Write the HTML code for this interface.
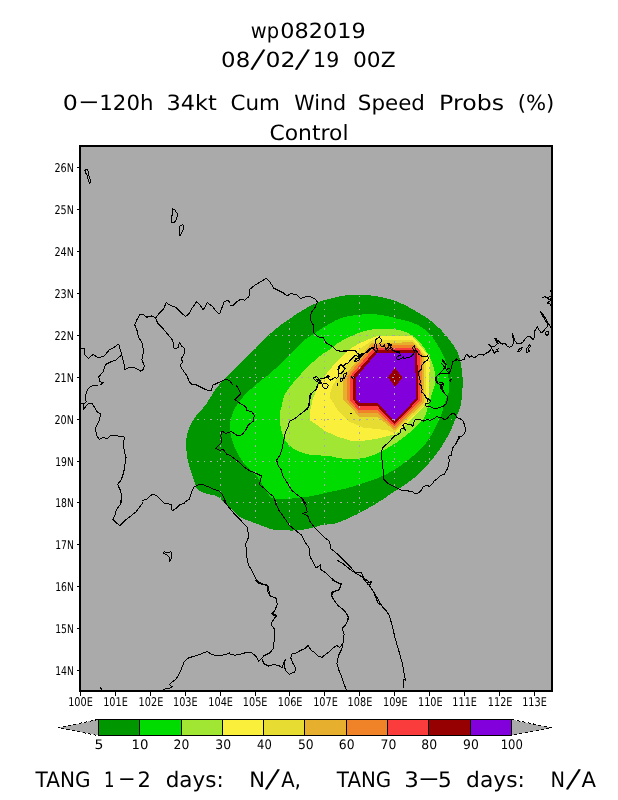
<!DOCTYPE html><html><head><meta charset="utf-8"><title>wp082019</title><style>html,body{margin:0;padding:0;background:#fff}svg{display:block}</style></head><body><svg width="618" height="800" viewBox="0 0 618 800" shape-rendering="crispEdges">
<rect x="0" y="0" width="618" height="800" fill="#ffffff"/>
<rect x="80" y="146" width="472" height="545" fill="#aaaaaa"/>
<g>
<polygon points="186.1,443.8 186.2,442.2 186.3,440.6 186.4,439.0 186.7,437.3 186.9,435.7 187.3,434.1 187.7,432.5 188.2,430.9 188.8,429.2 189.4,427.6 190.1,426.0 190.9,424.4 191.7,422.8 192.7,421.2 193.6,419.5 194.7,417.9 195.8,416.3 197.0,414.7 198.2,413.2 199.6,411.7 200.9,410.3 202.4,408.8 203.9,407.0 205.5,405.0 207.2,402.6 208.9,399.8 210.7,396.8 212.6,393.8 214.5,390.9 216.4,388.2 218.3,385.8 220.3,383.5 222.2,381.4 224.2,379.2 226.3,377.1 228.5,374.8 230.9,372.3 233.5,369.7 236.1,367.1 238.7,364.5 241.1,362.2 243.1,360.2 244.7,358.7 246.0,357.5 247.1,356.5 248.0,355.6 249.0,354.8 250.0,353.8 251.1,352.7 252.2,351.7 253.3,350.6 254.4,349.5 255.4,348.5 256.5,347.4 257.6,346.3 258.6,345.2 259.7,344.2 260.8,343.1 261.8,342.0 262.9,340.9 264.0,339.8 265.1,338.7 266.1,337.6 267.2,336.5 268.3,335.4 269.4,334.4 270.5,333.4 271.6,332.5 272.6,331.6 273.7,330.7 274.8,329.8 275.9,328.9 277.0,328.0 278.0,327.1 279.1,326.3 280.2,325.4 281.3,324.6 282.4,323.7 283.6,322.8 284.9,322.0 286.2,321.1 287.6,320.2 288.8,319.4 290.0,318.6 291.0,317.9 291.8,317.3 292.6,316.7 293.5,316.1 294.5,315.4 295.9,314.5 297.6,313.4 299.7,312.1 301.9,310.7 304.2,309.3 306.6,307.9 308.8,306.7 311.0,305.6 313.1,304.6 315.3,303.6 317.5,302.7 319.6,301.8 321.8,301.0 324.0,300.3 326.3,299.6 328.5,299.0 330.7,298.5 332.8,298.0 334.7,297.5 336.3,297.1 337.7,296.8 338.9,296.5 340.2,296.3 341.5,296.0 343.0,295.8 344.7,295.6 346.4,295.3 348.3,295.1 350.2,294.9 352.2,294.8 354.3,294.7 356.5,294.7 358.9,294.7 361.3,294.7 363.8,294.8 366.3,295.0 368.8,295.2 371.2,295.5 373.7,295.8 376.1,296.2 378.5,296.6 381.0,297.1 383.4,297.6 385.8,298.2 388.3,298.8 390.7,299.5 393.1,300.2 395.6,301.1 398.0,302.0 400.4,303.0 402.8,304.1 405.1,305.3 407.5,306.5 410.0,307.9 412.5,309.3 415.2,310.8 418.0,312.5 420.9,314.2 423.8,316.0 426.5,317.8 429.0,319.5 431.2,321.2 433.3,322.8 435.2,324.4 437.0,326.1 438.7,327.7 440.5,329.5 442.3,331.3 444.0,333.2 445.6,335.1 447.2,337.0 448.8,339.0 450.3,341.0 451.8,343.0 453.3,345.1 454.7,347.2 456.0,349.4 457.2,351.6 458.3,354.0 459.2,356.5 459.9,359.2 460.5,361.9 461.0,364.7 461.4,367.4 461.8,370.0 462.1,372.4 462.4,374.7 462.5,377.0 462.6,379.3 462.6,381.8 462.6,384.5 462.5,387.7 462.3,391.2 462.0,394.8 461.7,398.5 461.3,401.9 460.8,404.9 460.2,407.4 459.5,409.5 458.8,411.4 457.9,413.2 457.1,415.0 456.2,417.1 455.3,419.4 454.4,421.8 453.4,424.2 452.4,426.7 451.3,429.2 450.1,431.7 448.8,434.1 447.5,436.6 446.1,439.1 444.7,441.5 443.2,443.9 441.7,446.3 440.2,448.6 438.6,450.8 437.0,453.0 435.4,455.2 433.7,457.4 431.9,459.6 430.0,461.9 428.0,464.2 426.0,466.5 423.9,468.8 421.8,471.0 419.8,473.0 417.8,474.8 415.9,476.5 413.9,478.1 411.9,479.6 409.9,481.1 407.7,482.7 405.4,484.3 403.0,485.9 400.6,487.5 398.1,489.2 395.6,490.8 393.1,492.4 390.7,494.0 388.2,495.7 385.8,497.3 383.4,499.0 380.9,500.6 378.5,502.1 376.1,503.6 373.7,505.1 371.3,506.5 368.8,507.9 366.4,509.3 364.0,510.6 361.5,511.9 359.0,513.2 356.6,514.5 354.1,515.7 351.7,516.8 349.4,517.9 347.2,518.9 345.0,519.8 342.9,520.7 340.9,521.4 339.0,522.1 337.3,522.7 335.8,523.1 334.6,523.5 333.5,523.7 332.4,523.8 331.3,524.0 330.0,524.2 328.6,524.4 327.2,524.5 325.7,524.7 324.2,524.9 322.5,525.1 320.8,525.4 318.9,525.8 317.0,526.4 314.9,527.0 312.8,527.6 310.7,528.1 308.6,528.6 306.6,529.0 304.6,529.3 302.5,529.7 300.5,529.9 298.5,530.1 296.5,530.3 294.5,530.4 292.5,530.5 290.5,530.5 288.4,530.4 286.4,530.4 284.4,530.3 282.4,530.2 280.3,530.2 278.3,530.1 276.3,529.9 274.2,529.7 272.2,529.3 270.1,528.8 268.1,528.1 266.0,527.3 264.0,526.5 262.0,525.7 260.1,525.0 258.3,524.3 256.7,523.7 255.1,523.1 253.5,522.5 252.0,521.9 250.4,521.3 248.8,520.7 247.1,520.2 245.5,519.6 243.8,519.0 242.2,518.3 240.7,517.5 239.2,516.5 237.8,515.3 236.4,514.0 235.0,512.7 233.6,511.3 232.2,510.0 230.8,508.7 229.3,507.3 227.9,505.9 226.4,504.5 225.0,503.2 223.7,502.0 222.4,500.9 221.3,499.8 220.1,498.8 219.0,497.8 217.7,496.9 216.4,496.2 214.9,495.6 213.3,495.2 211.6,494.9 209.9,494.6 208.3,494.2 206.7,493.8 205.2,493.3 203.6,492.7 202.1,492.2 200.6,491.5 199.3,490.8 198.2,489.9 197.3,488.9 196.6,487.9 196.1,486.7 195.6,485.5 195.1,484.1 194.6,482.6 194.0,480.9 193.3,478.9 192.7,476.8 192.0,474.7 191.4,472.8 190.9,471.0 190.4,469.5 190.0,468.2 189.6,467.0 189.2,465.9 188.8,464.7 188.5,463.3 188.2,461.8 187.8,460.2 187.5,458.5 187.3,456.8 187.0,455.2 186.8,453.5 186.6,451.9 186.4,450.3 186.3,448.6 186.2,447.0 186.1,445.4" fill="#009600"/>
<polygon points="229.8,426.8 229.9,424.8 230.2,422.7 230.6,420.6 231.1,418.6 231.6,416.6 232.2,414.7 232.8,413.0 233.5,411.3 234.2,409.8 235.0,408.2 236.0,406.7 237.0,405.0 238.2,403.3 239.4,401.5 240.8,399.7 242.3,397.8 243.8,396.0 245.5,394.2 247.3,392.4 249.3,390.5 251.4,388.7 253.5,386.8 255.6,385.0 257.7,383.3 259.7,381.6 261.7,380.0 263.8,378.5 265.8,376.9 267.8,375.3 269.8,373.6 271.8,371.9 273.8,370.1 275.8,368.3 277.9,366.5 279.9,364.6 281.9,362.7 283.9,360.7 286.0,358.7 288.1,356.6 290.1,354.5 292.1,352.4 294.1,350.5 296.0,348.6 297.8,346.7 299.6,344.9 301.4,343.2 303.1,341.5 304.9,340.0 306.6,338.6 308.3,337.4 310.0,336.3 311.7,335.2 313.4,334.1 315.3,332.9 317.3,331.6 319.4,330.1 321.6,328.7 323.9,327.2 326.1,325.8 328.3,324.5 330.5,323.3 332.6,322.1 334.7,320.9 336.9,319.8 339.0,318.8 341.2,318.0 343.4,317.3 345.5,316.8 347.6,316.3 349.8,315.9 352.0,315.6 354.3,315.3 356.6,315.0 359.0,314.7 361.5,314.5 363.9,314.3 366.4,314.1 368.8,314.1 371.2,314.1 373.7,314.2 376.1,314.4 378.5,314.6 381.0,314.9 383.4,315.3 385.9,315.8 388.5,316.4 391.1,317.1 393.7,317.8 396.0,318.5 398.0,319.0 399.6,319.3 400.8,319.5 401.8,319.7 402.7,319.8 403.9,320.1 405.4,320.5 407.3,321.1 409.6,321.8 412.0,322.6 414.4,323.5 416.8,324.6 419.0,325.7 421.0,326.9 423.0,328.2 424.9,329.7 426.8,331.2 428.6,332.9 430.3,334.7 432.0,336.7 433.6,338.9 435.1,341.1 436.6,343.5 438.0,345.9 439.4,348.3 440.7,350.7 442.0,353.2 443.2,355.7 444.4,358.1 445.4,360.6 446.2,363.0 446.9,365.3 447.3,367.6 447.7,369.9 448.0,372.1 448.2,374.4 448.4,376.6 448.6,378.9 448.8,381.3 449.0,383.7 449.1,385.9 449.1,388.1 449.0,390.0 448.8,391.7 448.4,393.1 447.9,394.4 447.4,395.6 446.9,396.8 446.5,398.0 446.1,399.2 445.7,400.2 445.4,401.2 445.0,402.3 444.6,403.5 444.1,405.0 443.6,406.7 443.0,408.7 442.5,410.7 441.9,412.9 441.2,415.0 440.4,417.1 439.5,419.1 438.6,421.2 437.6,423.2 436.6,425.2 435.5,427.3 434.4,429.3 433.3,431.3 432.2,433.4 431.0,435.4 429.8,437.5 428.5,439.5 427.1,441.4 425.7,443.3 424.1,445.2 422.6,447.0 420.9,448.8 419.2,450.6 417.4,452.3 415.5,454.0 413.5,455.7 411.4,457.3 409.4,458.9 407.3,460.5 405.2,462.0 403.2,463.5 401.3,465.0 399.3,466.4 397.3,467.8 395.3,469.2 393.1,470.5 390.8,471.8 388.4,473.1 386.0,474.4 383.5,475.6 381.0,476.7 378.5,477.8 376.1,478.8 373.7,479.6 371.3,480.4 368.8,481.2 366.4,481.9 364.0,482.7 361.5,483.5 359.0,484.4 356.6,485.2 354.1,486.0 351.7,486.8 349.4,487.5 347.2,488.1 345.0,488.7 342.9,489.2 340.9,489.6 339.0,490.0 337.3,490.4 335.9,490.7 334.7,491.0 333.6,491.2 332.6,491.4 331.4,491.6 330.0,491.9 328.3,492.3 326.4,492.7 324.4,493.2 322.4,493.7 320.3,494.2 318.3,494.6 316.3,495.0 314.3,495.5 312.3,495.9 310.2,496.3 308.2,496.7 306.2,497.0 304.2,497.3 302.1,497.5 300.0,497.8 298.0,498.0 296.0,498.1 294.1,498.3 292.3,498.5 290.5,498.6 288.8,498.7 287.1,498.8 285.4,498.9 283.6,498.9 281.7,498.9 279.6,499.0 277.5,499.0 275.5,498.9 273.6,498.5 271.9,497.9 270.5,496.9 269.4,495.7 268.4,494.3 267.5,492.7 266.5,491.0 265.4,489.3 264.2,487.5 262.9,485.5 261.6,483.4 260.3,481.4 259.0,479.4 257.7,477.7 256.4,476.2 255.1,474.9 253.8,473.6 252.5,472.5 251.2,471.2 249.9,469.9 248.6,468.5 247.2,467.1 245.9,465.6 244.6,464.1 243.3,462.5 242.1,460.8 240.9,459.0 239.8,457.1 238.7,455.1 237.6,453.1 236.6,451.1 235.7,449.2 234.9,447.4 234.1,445.7 233.5,444.0 232.9,442.3 232.3,440.6 231.8,438.8 231.3,436.9 230.8,434.9 230.4,432.9 230.1,430.9 229.9,428.8" fill="#00dc00"/>
<polygon points="279.5,414.7 279.7,412.9 280.0,411.3 280.5,409.7 281.0,408.1 281.5,406.6 281.9,405.0 282.3,403.4 282.5,401.8 282.8,400.3 283.2,398.7 283.7,397.1 284.4,395.4 285.3,393.7 286.4,391.9 287.6,390.0 288.9,388.2 290.3,386.3 291.7,384.5 293.2,382.7 294.8,380.8 296.4,379.0 298.1,377.1 299.8,375.3 301.4,373.6 303.0,371.9 304.6,370.2 306.2,368.6 307.8,367.0 309.4,365.4 311.0,363.9 312.6,362.4 314.3,360.9 315.9,359.4 317.6,358.0 319.2,356.7 320.8,355.4 322.4,354.3 323.9,353.2 325.4,352.3 326.9,351.3 328.4,350.4 330.0,349.3 331.5,348.2 333.0,347.0 334.5,345.7 336.1,344.5 337.8,343.2 339.7,342.0 341.9,340.8 344.2,339.5 346.7,338.2 349.3,337.0 351.8,335.9 354.3,334.8 356.7,333.8 359.1,332.9 361.5,332.0 363.8,331.2 366.3,330.6 368.8,330.0 371.5,329.6 374.3,329.3 377.1,329.2 379.9,329.1 382.6,329.0 385.0,329.0 387.2,329.0 389.1,329.0 390.9,329.0 392.7,329.1 394.5,329.3 396.3,329.6 398.2,329.9 400.1,330.3 402.0,330.8 403.9,331.4 405.8,332.1 407.7,333.0 409.6,334.1 411.6,335.3 413.5,336.7 415.4,338.2 417.3,339.8 419.0,341.5 420.7,343.3 422.3,345.3 423.9,347.4 425.3,349.6 426.7,351.8 428.0,354.0 429.2,356.2 430.3,358.5 431.3,360.9 432.2,363.2 433.0,365.5 433.7,367.6 434.2,369.7 434.7,371.7 435.0,373.7 435.2,375.5 435.3,377.3 435.4,378.9 435.4,380.3 435.4,381.5 435.2,382.6 435.0,383.6 434.8,384.8 434.5,386.0 434.1,387.4 433.7,388.7 433.2,390.2 432.7,391.7 432.2,393.3 431.6,395.0 431.0,396.9 430.4,398.9 429.7,401.0 429.1,403.1 428.4,405.2 427.8,407.1 427.3,408.9 426.8,410.6 426.4,412.3 425.9,414.0 425.3,415.6 424.4,417.3 423.2,419.0 421.9,420.7 420.3,422.4 418.7,424.1 417.0,425.8 415.3,427.5 413.5,429.2 411.7,430.8 409.8,432.4 407.8,434.0 405.9,435.6 404.0,437.1 402.1,438.5 400.2,439.9 398.4,441.3 396.5,442.6 394.6,443.8 392.7,445.0 390.8,446.1 388.9,447.2 387.0,448.3 385.1,449.3 383.2,450.2 381.3,451.2 379.4,452.1 377.5,453.1 375.6,454.0 373.7,454.9 371.8,455.6 370.0,456.3 368.2,456.9 366.5,457.3 364.9,457.7 363.2,458.0 361.6,458.3 360.0,458.5 358.5,458.7 357.0,458.8 355.6,458.9 354.2,459.0 352.6,459.0 350.9,459.0 348.9,458.9 346.7,458.8 344.4,458.7 342.1,458.5 339.9,458.2 338.0,458.0 336.4,457.7 335.0,457.4 333.8,457.0 332.6,456.6 331.3,456.3 330.0,456.0 328.5,455.8 327.0,455.7 325.5,455.7 324.0,455.6 322.4,455.6 320.8,455.5 319.2,455.4 317.6,455.3 315.9,455.3 314.3,455.2 312.6,455.0 311.0,454.8 309.4,454.5 307.8,454.2 306.2,453.8 304.6,453.4 303.0,452.9 301.4,452.3 299.8,451.7 298.1,451.0 296.4,450.3 294.8,449.5 293.2,448.5 291.7,447.5 290.3,446.3 289.0,445.1 287.7,443.7 286.5,442.2 285.4,440.7 284.4,439.0 283.5,437.2 282.8,435.2 282.2,433.1 281.6,431.0 281.1,428.9 280.7,426.8 280.3,424.7 280.0,422.7 279.7,420.6 279.5,418.6 279.5,416.6" fill="#a0e632"/>
<polygon points="309.7,420.0 310.4,409.9 312.9,398.3 316.8,389.2 322.0,380.1 328.5,371.1 336.2,362.0 344.0,354.2 351.8,347.8 360.0,343.0 376.2,336.3 412.5,336.3 430.0,357.2 428.9,391.0 428.7,400.0 424.0,406.0 415.0,416.0 405.0,425.1 400.0,430.3 394.5,434.8 389.7,435.5 376.8,438.7 363.8,440.7 350.9,440.7 338.0,436.8 325.0,431.0 317.1,425.0" fill="#faf03c"/>
<polygon points="332.8,385.0 336.8,379.8 343.6,367.4 351.8,359.4 360.0,348.8 373.0,339.7 412.8,339.7 426.0,356.0 425.9,404.0 394.5,433.0 387.1,430.3 376.8,429.0 363.8,427.7 348.3,421.2 338.0,410.9 330.2,398.0 330.2,392.8" fill="#e6dc32"/>
<polygon points="343.2,399.2 343.2,377.5 371.7,342.8 413.4,342.4 423.8,355.6 423.6,403.0 394.5,430.5 377.4,416.7 359.3,416.7" fill="#e6af2d"/>
<polygon points="346.5,399.2 346.5,377.2 372.6,345.3 414.4,345.2 421.9,354.0 421.9,402.0 394.5,428.5 376.8,412.8 358.7,412.8" fill="#f08228"/>
<polygon points="350.0,400.0 350.0,376.5 373.9,347.9 417.5,347.8 419.9,350.5 419.7,401.0 394.5,426.4 376.8,409.6 358.0,409.6" fill="#fa3c3c"/>
<polygon points="353.3,399.9 353.3,375.9 375.5,350.4 417.3,350.4 418.0,399.8 394.5,424.2 376.8,405.7 358.0,405.7" fill="#960000"/>
<polygon points="356.1,399.2 356.1,377.2 377.2,352.6 415.1,352.6 416.0,398.7 394.5,421.3 377.4,402.5 358.7,402.5" fill="#8200dc"/>
<polygon points="395.2,367.8 402.4,377.4 395.2,386.9 388.0,377.4" fill="#960000"/>
</g>
<path d="M115.5 146V691M150.5 146V691M185.5 146V691M220.5 146V691M255.5 146V691M289.5 146V691M324.5 146V691M359.5 146V691M394.5 146V691M429.5 146V691M464.5 146V691M499.5 146V691M534.5 146V691M80 670.5H552M80 628.5H552M80 586.5H552M80 544.5H552M80 502.5H552M80 461.5H552M80 419.5H552M80 377.5H552M80 335.5H552M80 293.5H552M80 251.5H552M80 209.5H552M80 167.5H552" stroke="#aaaaaa" stroke-width="1" fill="none" stroke-dasharray="2 5 1 5"/>
<path d="M84.9 169.9L87.3 169.4L88.7 173.1L89.2 177.9L90.7 180.3L89.7 183.5L88.3 180.3L87.3 175.5L85.3 172.3L84.9 169.9M172.2 208.3L175.1 210.2L177.6 214.3L176.6 219.2L174.2 222.8L171.7 222.8L171.3 218.0L172.7 213.1L172.2 208.3M180.0 225.7L182.9 224.8L183.9 227.7L182.4 231.3L180.5 235.4L179.0 236.2L180.0 231.3L179.5 228.2L180.0 225.7M80.0 348.3L84.4 348.7L84.9 354.8L88.5 358.4L93.3 354.3L98.2 358.0L104.3 356.0L109.1 350.0L114.0 347.5L118.8 343.9L120.0 348.7L121.7 354.8M121.7 354.8L116.4 359.7L110.3 362.1L105.5 364.5L103.1 371.8L98.9 376.7L99.4 381.5L103.1 382.7L100.6 384.9M121.7 354.8L123.7 362.1L124.9 369.4L131.0 366.9L135.8 368.2L140.7 371.1L143.6 369.4L144.3 365.7L141.9 359.7L143.6 351.2L141.9 342.7L138.3 336.6L137.0 330.5L134.6 324.5L137.0 319.6L139.5 314.8L143.6 314.8L146.7 317.2L151.6 316.0L155.7 317.9M155.7 317.9L158.9 313.5L163.7 308.7L166.2 302.6L169.8 305.0L175.9 307.5L180.7 312.3L185.6 316.5L189.2 313.5L191.7 308.7L196.5 301.9L200.1 305.0L203.3 309.9L207.4 302.6L212.3 306.3L215.9 311.1L219.6 314.0L222.0 307.5L224.4 301.4L228.1 300.2L230.0 302.6M155.7 317.9L157.7 323.3L163.7 329.3L168.6 335.4L172.7 340.2L174.2 348.7L178.3 347.5L179.5 342.2L181.9 346.3L184.9 348.7L184.4 353.6L181.5 358.4L182.4 362.1L180.0 365.7L183.2 370.6L186.8 375.4L189.2 381.5L192.1 384.4L196.5 384.9M213.5 384.9L220.8 381.5L225.6 379.1L230.0 381.0M230.0 305.0L233.6 305.0L237.3 301.4L240.9 299.0L244.6 300.2L248.9 296.6L249.9 289.3L254.3 285.6L260.3 282.0L266.4 278.3L270.0 282.0L273.7 288.1L278.5 290.5L283.4 292.9L287.0 296.1L290.7 293.6L296.7 294.6L300.4 298.5L305.2 297.0L310.1 296.6L315.0 299.0L317.4 301.9L315.0 307.5L311.3 312.3L310.1 319.6L313.7 325.7L313.7 333.0L317.4 336.6L323.4 337.8L325.9 342.7L331.9 346.3L336.8 350.4L342.9 351.9L348.9 350.4L355.0 350.0L357.4 353.6L362.3 355.3L365.9 352.4L369.6 348.7L374.4 347.5L375.6 340.2L378.1 337.8L380.0 336.6M230.0 381.0L232.4 384.9M98.2 385.0L90.9 386.2L87.3 389.9L85.3 395.9L86.1 402.0L83.4 404.2L80.0 403.2M83.4 404.2L83.6 409.3L88.5 403.2L92.1 403.2L95.0 408.1L97.0 411.7L100.6 414.1L98.9 421.4L95.0 428.7L97.0 436.0L99.4 439.6L103.1 437.2L106.7 438.9L110.3 436.0L115.2 435.5L120.0 436.5L124.9 437.2L123.2 442.0L124.2 450.5L126.1 457.8L124.9 465.1L123.7 472.4L121.3 479.7L117.6 484.5L120.0 489.4L121.7 495.4L120.8 504.9M196.5 385.0L201.4 387.4L206.2 389.9L211.1 391.1L213.0 385.0M230.0 432.3L225.6 433.5L222.0 431.1L220.8 436.0L222.0 442.0L218.3 445.7L215.9 448.6L219.6 450.5L223.2 449.3L226.8 454.2L230.0 455.4M141.9 501.0L146.7 499.1L150.4 495.4L154.0 494.2L157.7 496.7L161.3 500.3L165.0 503.9M184.4 502.7L189.2 499.1L191.7 491.8L194.1 486.9L198.9 484.5L203.8 485.0L208.6 486.9L213.5 489.4L218.3 490.6L222.0 494.2L224.4 499.1L226.8 504.9M317.4 385.0L316.2 388.6L312.5 392.3L310.1 397.1L309.6 405.6L305.2 410.5L300.4 414.1L294.3 419.0L289.5 421.4L288.3 426.3L285.3 432.3L283.9 439.6L282.2 448.1L279.8 455.4L276.6 460.2L278.5 466.3L281.5 470.0L282.2 474.8L285.3 479.7L288.3 484.5L291.9 490.6L298.0 495.4L302.8 499.1L306.5 504.9M236.1 385.0L238.5 388.6L240.9 393.5L237.3 397.1L234.9 399.6L239.7 403.2L245.8 406.8L247.0 410.5L251.8 411.7L254.3 415.3L253.1 421.4L248.2 425.0L245.8 429.9L242.1 434.8L237.3 435.5L232.4 432.3L230.0 431.1M230.0 455.4L234.9 459.0L239.7 462.7L244.6 467.5L250.6 471.2L256.7 473.6L261.6 476.0L260.3 480.9L259.1 484.5L264.0 488.2L268.8 493.0L273.7 496.7L276.1 504.9M350.1 413.2L351.1 413.2L351.1 413.9L350.1 413.9L350.1 413.2M120.8 500.0L120.0 504.9L116.4 509.7L115.2 514.6L112.8 519.4L116.4 523.1L120.0 525.5L124.9 520.6L131.0 515.8L135.8 512.1L139.5 507.3L143.1 502.4M163.7 502.9L171.0 504.4L172.2 510.9L175.9 508.5L179.5 504.9L185.6 502.9M163.7 551.5L167.4 552.9L171.0 551.5L171.7 557.0L169.8 561.9L169.3 557.0L166.2 554.6L163.7 553.4L163.7 551.5M223.2 500.0L226.8 504.9L230.0 508.5M230.0 508.5L234.9 514.6L240.9 520.6L247.0 526.7L248.9 536.4L245.8 543.7L246.5 555.8L248.2 564.3L253.1 572.8L256.7 580.1L261.6 583.7L268.3 586.2L267.6 591.0L270.0 595.9L276.1 598.3L277.3 604.4L274.9 610.4L272.5 612.9L276.1 615.3L273.7 619.9M274.9 500.0L278.5 509.7L284.6 518.2L289.5 525.5L295.5 530.3L301.6 535.2L305.2 542.5L308.9 547.3L310.1 557.0L313.7 563.1L316.2 568.0L321.0 564.3L320.3 569.2L325.9 572.8L330.7 577.7L335.6 581.3L341.2 584.5L339.2 589.8L333.2 592.2L331.5 595.9L334.4 600.7L338.0 605.6L344.1 610.4L347.7 615.3L348.9 619.9M302.8 500.0L305.7 506.1L307.2 512.1L302.8 513.3L307.7 515.8L310.1 521.8L315.0 527.9L319.8 532.8L324.7 537.6L329.5 541.3L330.7 548.5L336.8 553.4L341.7 558.3L346.5 563.1L351.4 568.0L355.0 572.8L361.1 572.3L363.5 577.7L368.3 581.3L367.1 585.0L370.8 583.7L369.6 586.2L373.2 591.0L375.6 597.1L378.1 603.2L380.0 604.4M273.7 620.0L272.5 620.0L271.3 624.9L274.9 629.8L274.2 638.3L273.7 648.0L270.0 652.8L264.0 655.7L261.6 658.2M255.5 580.0L259.1 583.6L266.4 584.9L268.8 589.7L270.0 595.8L276.1 598.2L277.3 604.3L274.9 610.3L271.7 614.0L276.1 616.4L273.2 620.0M261.6 658.2L258.6 661.3L256.2 656.5L251.8 652.8L247.0 652.3L240.9 654.0L234.9 655.2L230.0 654.0M261.6 658.2L264.0 663.7L268.8 666.2L273.7 664.5L278.5 665.4L282.2 667.9L283.9 662.5L285.3 659.6L283.9 665.0L285.8 671.0L289.5 674.2L294.3 672.2L296.0 668.6L293.1 663.7L290.7 657.7L291.9 654.0L296.7 652.8L300.4 650.4L304.0 649.2L308.2 645.5L311.3 650.4L315.0 652.8L318.6 656.5L322.2 657.2L325.9 654.0L329.5 651.6L333.2 648.0L336.8 645.5L339.7 647.5L342.9 643.6M331.9 580.0L336.8 582.4L341.2 583.6L339.2 589.7L331.9 592.1L331.5 595.8L334.4 600.6L338.0 605.5L344.1 610.3L348.4 616.4L346.5 623.7L342.1 628.5L344.1 634.6L342.9 643.6L341.7 649.2L338.7 655.2L336.8 663.7L339.2 671.0L341.7 677.1L344.1 684.4L346.5 690.0M230.0 652.8L225.6 654.8L220.8 655.2L215.9 655.7L211.1 654.0L207.4 651.6L203.8 652.8L198.9 654.8L192.9 656.5L188.0 658.2L184.4 661.3L181.9 667.4L179.5 673.4L175.9 679.5L172.2 681.9L169.3 684.4L172.2 686.8L168.6 688.7L162.5 689.2M100.6 686.8L101.4 690.0M336.7 560.0L343.0 563.7L352.3 571.2L361.6 576.7L367.2 583.1L371.7 581.6L369.1 585.3L374.7 593.5L382.1 606.5L385.8 610.2L389.5 615.8L392.5 627.0L395.1 638.2L398.9 651.2L402.6 664.2L404.4 675.4L405.9 681.0L403.7 679.1L403.7 688.4M381.5 454.0L382.2 448.6L383.6 446.7L387.0 443.9L390.4 440.5L394.3 436.0L398.3 434.3L401.1 432.0L400.6 429.2L403.4 428.0L405.1 429.7L405.7 430.9L404.0 427.5L402.8 425.2L405.1 422.9L407.4 424.1L411.3 424.6L413.0 426.3L413.6 423.5L414.2 420.7L416.4 419.0L419.8 419.0L423.2 421.2L425.5 420.1L427.8 419.5L430.0 420.7L433.4 419.0L436.8 416.7L440.0 417.8L441.1 417.5L444.0 419.3L447.2 418.7L449.0 416.2L450.8 414.4L453.3 413.2L455.7 415.0L456.9 417.5L461.1 419.3L463.0 421.1L464.8 425.3L465.4 430.8L464.2 433.8L462.3 435.8L458.6 437.0L459.9 438.3L458.1 439.3L456.2 443.1L452.6 447.9L451.4 455.2L448.4 456.4L449.4 460.0L447.7 468.5L446.0 471.0L444.1 474.6L440.4 475.3L438.0 478.3L434.4 480.7L431.9 484.3L429.5 486.7L427.1 485.0L423.4 486.7L421.0 490.4L418.6 492.8L415.0 494.0L412.5 491.6L407.7 490.9L400.4 489.9L394.3 486.7L388.3 483.6L383.9 479.5L383.4 472.2L382.2 462.5L381.5 454.0M365.0 352.9L362.3 354.4L360.3 355.8L358.9 354.9L357.4 356.3L355.5 355.3L353.5 356.8L351.6 359.2L350.1 360.2L349.2 362.1L347.7 363.1L345.8 363.6L344.3 365.0L343.3 367.0L341.9 365.5L340.9 364.1L339.5 365.5L338.5 367.5L338.0 369.4L339.0 371.4L338.5 373.8L339.0 375.7L338.0 376.7L337.0 378.2L335.1 377.7L333.2 378.2L331.7 379.6L330.2 380.1L328.8 379.1L327.8 377.7L329.3 376.2L328.3 375.4L326.8 376.7L325.4 377.7L323.9 378.2L322.0 379.1L320.5 378.6L319.1 379.6L318.1 378.2L316.7 376.7L314.7 377.2L313.3 378.2L314.2 379.6L315.7 380.6L317.1 381.6L318.6 382.5L320.5 382.0L322.0 383.0L321.0 384.0L319.6 383.5L318.1 384.0L317.1 385.4L317.6 387.4L316.7 388.8L315.2 390.3L313.7 391.3L312.3 392.7L310.8 393.7L309.9 395.6L309.4 397.6L309.9 400.0M339.5 365.5L341.4 364.6L342.9 366.0L344.3 368.0L345.3 368.9L343.8 370.4L342.4 372.3L340.9 373.8L339.2 373.3L338.5 371.4L339.0 368.9L339.5 365.5M343.8 374.3L345.3 373.3L346.6 372.8L346.3 374.8L345.3 376.7L344.3 378.6L342.9 379.1L343.3 377.2L343.8 374.3M340.4 379.1L341.9 378.2L342.4 380.1L341.4 381.6L340.1 381.1L340.4 379.1M336.6 383.5L338.0 384.0L337.5 385.0L336.6 383.5M323.0 384.0L324.9 383.5L326.8 384.0L328.3 385.4L327.5 387.4L326.4 388.8L324.4 388.3L323.0 386.9L322.5 385.4L323.0 384.0M316.2 379.1L317.6 380.1L319.6 381.1L321.0 380.6L320.0 382.0M337.5 351.0L339.5 350.0M342.4 351.5L343.8 350.5L347.7 351.0L350.6 350.0M356.5 359.2L358.4 358.3L359.9 359.2L357.9 360.7L356.0 361.7L354.5 361.2L356.5 359.2M357.9 356.8L359.9 355.8L361.3 356.8L359.4 357.8M351.1 376.2L352.6 378.2L352.1 379.1M353.5 376.2L354.5 377.7M309.8 399.9L308.4 406.0L307.1 409.3L303.9 411.2L301.3 413.8L300.0 415.1M359.0 354.3L360.6 354.3L364.0 353.2L367.4 352.1L369.6 349.8L371.9 347.6L373.6 348.7L374.7 351.0L376.4 352.1L377.6 349.8L376.4 347.0L375.9 343.6L375.3 340.2L377.0 338.5L379.3 337.4L381.0 339.1L381.5 341.3L379.8 343.6L381.0 345.9L383.2 347.0L384.4 344.7L385.5 348.7L387.8 350.4L390.0 348.1L391.7 344.7L388.3 343.6L390.0 345.3L393.4 350.4L396.8 351.5L400.0 352.1M359.0 354.3L359.7 356.3L358.9 357.7L357.2 358.3L355.5 358.5M385.0 350.0L386.7 348.9L388.4 347.2L389.5 344.3L387.8 343.2L390.1 345.5L390.7 348.3L391.8 350.0L394.1 350.6L396.3 352.3L399.7 352.8L400.3 355.1L398.0 356.2L396.3 357.9L397.5 359.6L399.7 359.1L402.0 357.9L403.7 356.8L403.1 359.1L406.0 357.9L408.8 357.4L411.6 356.2L413.3 354.0L415.0 352.3L413.3 349.4L412.2 348.3L414.2 345.5L415.0 348.3L416.1 350.6L417.8 352.3L419.0 354.5L421.2 355.7L422.4 356.8L424.6 356.5L427.5 356.0L428.6 357.9L427.5 360.2L425.2 361.3L423.5 363.0L422.4 364.7L421.2 366.4L421.8 368.7L420.1 370.4L418.4 372.1L419.0 375.5L419.5 378.9L420.7 381.7L419.5 384.0L421.2 385.7L421.8 388.0L422.4 390.0M421.7 390.1L421.4 392.0L424.3 394.0L426.2 397.9L429.1 398.8L430.7 401.7L428.2 403.7L425.2 403.7L426.2 406.2L431.1 407.0L435.0 408.9L438.8 407.6L442.7 406.6L446.2 403.7L447.6 399.8L447.0 395.9L444.3 393.0L442.3 389.1L441.2 385.2L443.7 384.3L441.7 382.3L437.9 383.3L435.9 379.4L436.9 377.1M429.1 398.8L427.2 399.8L428.2 402.3M436.2 376.6L438.1 374.7L440.7 372.1L443.3 369.5L445.2 366.9L445.9 364.3L444.6 362.4L442.7 359.8L443.0 361.7L444.9 363.9L446.5 364.7M436.2 376.6L439.4 374.0L442.7 373.4L445.9 374.0L449.1 373.4L450.8 370.1L451.7 366.9L452.1 363.9L453.0 361.3L455.0 360.4L456.9 358.5M446.5 370.1L447.8 368.8L450.0 368.8L450.4 370.8L448.7 372.5L447.2 371.7L446.5 370.1M441.4 363.4L443.9 366.2L445.9 368.8M449.8 379.8L451.1 379.2L450.4 381.8L449.8 379.8M436.2 376.6L435.3 379.2L436.2 381.8L438.1 383.7L440.7 384.4L440.1 387.0L441.4 389.5L442.7 387.0L443.3 385.0L441.4 384.4M441.4 389.5L443.0 391.5M454.3 360.4L457.5 360.0L461.4 360.4L464.7 359.1L465.3 355.2L467.2 354.6L469.2 357.2L471.8 355.9L474.4 357.8L477.0 355.9L478.9 353.9L480.8 354.6L483.4 355.2L486.0 353.3L488.6 352.0L490.6 350.1L491.8 347.5L489.9 345.5L488.6 344.2L491.2 346.2L493.8 346.8L495.7 345.5L497.7 342.9L496.4 339.7L495.7 338.4L498.3 341.0L500.0 342.3M492.5 349.4L494.4 353.3L495.7 351.4L498.3 352.0L496.4 349.4L499.0 348.8M499.4 343.4L497.5 343.4L495.5 340.2L494.9 338.3L497.5 340.2L500.1 342.8L502.7 344.1L505.2 343.4L507.2 346.0L509.8 347.3L512.4 346.0L513.7 342.1L513.0 338.3L512.4 335.7L512.4 333.1L513.7 337.0L515.0 340.8L516.9 343.4L520.1 344.1L522.7 342.1L524.7 339.5L527.2 337.0L529.8 336.3L531.8 338.3L533.1 340.2L534.4 337.0L534.1 332.4L535.7 329.2L537.6 326.6L538.9 329.8L540.8 332.4L543.4 331.8L544.7 329.2L546.7 327.2L548.0 325.3L546.7 322.7L544.7 319.5L542.1 315.0L540.2 311.1L542.1 313.0L544.7 316.9L547.3 321.4L549.9 326.0L550.9 327.9M517.5 351.8L519.5 348.6L522.1 347.3L521.4 349.9L519.5 351.8L517.5 351.8M526.0 351.8L526.6 348.6L528.5 346.0L529.8 344.7L530.5 346.7L528.5 348.6L529.2 351.2L527.2 352.5L526.0 351.8M545.4 332.4L546.7 331.1L548.6 331.8L548.6 334.1L547.1 335.4L545.4 334.4L545.4 332.4M542.1 297.5L544.7 296.8L547.3 297.5L549.9 296.8L550.9 296.2M549.9 290.4L550.9 291.7M547.3 297.5L548.6 299.4L550.6 298.8L550.9 300.7L549.3 301.4L547.3 303.3L549.9 303.9L550.9 305.2" fill="none" stroke="#000" stroke-width="1" stroke-linejoin="round"/>
<rect x="80" y="146" width="472" height="545" fill="none" stroke="#000" stroke-width="2"/>
<path d="M80.5 691V696M115.5 691V696M150.5 691V696M185.5 691V696M220.5 691V696M255.5 691V696M289.5 691V696M324.5 691V696M359.5 691V696M394.5 691V696M429.5 691V696M464.5 691V696M499.5 691V696M534.5 691V696M77 670.5H80M77 628.5H80M77 586.5H80M77 544.5H80M77 502.5H80M77 461.5H80M77 419.5H80M77 377.5H80M77 335.5H80M77 293.5H80M77 251.5H80M77 209.5H80M77 167.5H80" stroke="#000" stroke-width="1" fill="none"/>
<rect x="98.5" y="719.5" width="41.0" height="16" fill="#009600" stroke="#000" stroke-width="1"/>
<rect x="139.5" y="719.5" width="42.0" height="16" fill="#00dc00" stroke="#000" stroke-width="1"/>
<rect x="181.5" y="719.5" width="41.0" height="16" fill="#a0e632" stroke="#000" stroke-width="1"/>
<rect x="222.5" y="719.5" width="41.0" height="16" fill="#faf03c" stroke="#000" stroke-width="1"/>
<rect x="263.5" y="719.5" width="41.0" height="16" fill="#e6dc32" stroke="#000" stroke-width="1"/>
<rect x="304.5" y="719.5" width="42.0" height="16" fill="#e6af2d" stroke="#000" stroke-width="1"/>
<rect x="346.5" y="719.5" width="41.0" height="16" fill="#f08228" stroke="#000" stroke-width="1"/>
<rect x="387.5" y="719.5" width="41.0" height="16" fill="#fa3c3c" stroke="#000" stroke-width="1"/>
<rect x="428.5" y="719.5" width="42.0" height="16" fill="#960000" stroke="#000" stroke-width="1"/>
<rect x="470.5" y="719.5" width="41.0" height="16" fill="#8200dc" stroke="#000" stroke-width="1"/>
<polygon points="98,719.5 58,727.8 98,735.5" fill="#aaaaaa" stroke="#000" stroke-width="1" stroke-dasharray="3 2.5"/>
<polygon points="511.5,719.5 552,727.8 511.5,735.5" fill="#aaaaaa" stroke="#000" stroke-width="1" stroke-dasharray="3 2.5"/>
<path d="M98.5 719V736M511.5 719V736" stroke="#000" stroke-width="1"/>
<g font-family="'DejaVu Sans', 'Liberation Sans', sans-serif" fill="#000" shape-rendering="auto" text-rendering="geometricPrecision"><text><tspan x="250.8" y="37.6" font-size="21.0" textLength="28.3" lengthAdjust="spacingAndGlyphs">wp</tspan><tspan x="280.2" y="37.6" font-size="21.0" textLength="85.5" lengthAdjust="spacingAndGlyphs">082019</tspan></text>
<text><tspan x="221.1" y="66.7" font-size="21.0" textLength="29.1" lengthAdjust="spacingAndGlyphs">08</tspan><tspan x="250.9" y="67.1" font-size="28.0" rotate="15">/</tspan><tspan x="265.4" y="66.7" font-size="21.0" textLength="30.0" lengthAdjust="spacingAndGlyphs">02</tspan><tspan x="295.5" y="67.1" font-size="28.0" rotate="15">/</tspan><tspan x="313.1" y="66.7" font-size="21.0" textLength="26.1" lengthAdjust="spacingAndGlyphs">19</tspan> <tspan x="353.0" y="66.7" font-size="21.0" textLength="42.6" lengthAdjust="spacingAndGlyphs">00Z</tspan></text>
<text><tspan x="62.7" y="110.0" font-size="21.0" textLength="15.1" lengthAdjust="spacingAndGlyphs">0</tspan><tspan x="77.8" y="108.4" font-size="21.0" textLength="22.2" lengthAdjust="spacingAndGlyphs">-</tspan><tspan x="99.3" y="110.0" font-size="21.0" textLength="54.2" lengthAdjust="spacingAndGlyphs">120h</tspan> <tspan x="166.4" y="110.0" font-size="21.0" textLength="50.3" lengthAdjust="spacingAndGlyphs">34kt</tspan> <tspan x="230.4" y="110.0" font-size="21.0" textLength="49.5" lengthAdjust="spacingAndGlyphs">Cum</tspan> <tspan x="294.2" y="110.0" font-size="21.0" textLength="51.9" lengthAdjust="spacingAndGlyphs">Wind</tspan> <tspan x="357.8" y="110.0" font-size="21.0" textLength="67.1" lengthAdjust="spacingAndGlyphs">Speed</tspan> <tspan x="439.1" y="110.0" font-size="21.0" textLength="64.9" lengthAdjust="spacingAndGlyphs">Probs</tspan> <tspan x="517.7" y="110.0" font-size="21.0" textLength="36.6" lengthAdjust="spacingAndGlyphs">(%)</tspan></text>
<text><tspan x="269.4" y="139.7" font-size="21.0" textLength="79.1" lengthAdjust="spacingAndGlyphs">Control</tspan></text>
<text><tspan x="68.2" y="706.0" font-size="12.0" textLength="24.7" lengthAdjust="spacingAndGlyphs">100E</tspan></text>
<text><tspan x="103.2" y="706.0" font-size="12.0" textLength="24.7" lengthAdjust="spacingAndGlyphs">101E</tspan></text>
<text><tspan x="138.6" y="706.0" font-size="12.0" textLength="24.7" lengthAdjust="spacingAndGlyphs">102E</tspan></text>
<text><tspan x="173.0" y="706.0" font-size="12.0" textLength="24.7" lengthAdjust="spacingAndGlyphs">103E</tspan></text>
<text><tspan x="208.3" y="706.0" font-size="12.0" textLength="24.7" lengthAdjust="spacingAndGlyphs">104E</tspan></text>
<text><tspan x="242.8" y="706.0" font-size="12.0" textLength="24.7" lengthAdjust="spacingAndGlyphs">105E</tspan></text>
<text><tspan x="277.8" y="706.0" font-size="12.0" textLength="24.7" lengthAdjust="spacingAndGlyphs">106E</tspan></text>
<text><tspan x="313.2" y="706.0" font-size="12.0" textLength="24.7" lengthAdjust="spacingAndGlyphs">107E</tspan></text>
<text><tspan x="347.6" y="706.0" font-size="12.0" textLength="24.7" lengthAdjust="spacingAndGlyphs">108E</tspan></text>
<text><tspan x="383.0" y="706.0" font-size="12.0" textLength="24.7" lengthAdjust="spacingAndGlyphs">109E</tspan></text>
<text><tspan x="418.0" y="706.0" font-size="12.0" textLength="24.7" lengthAdjust="spacingAndGlyphs">110E</tspan></text>
<text><tspan x="452.3" y="706.0" font-size="12.0" textLength="24.7" lengthAdjust="spacingAndGlyphs">111E</tspan></text>
<text><tspan x="487.8" y="706.0" font-size="12.0" textLength="24.7" lengthAdjust="spacingAndGlyphs">112E</tspan></text>
<text><tspan x="522.2" y="706.0" font-size="12.0" textLength="24.7" lengthAdjust="spacingAndGlyphs">113E</tspan></text>
<text><tspan x="55.2" y="675.0" font-size="12.0" textLength="18.7" lengthAdjust="spacingAndGlyphs">14N</tspan></text>
<text><tspan x="55.2" y="633.0" font-size="12.0" textLength="18.7" lengthAdjust="spacingAndGlyphs">15N</tspan></text>
<text><tspan x="55.2" y="591.0" font-size="12.0" textLength="18.7" lengthAdjust="spacingAndGlyphs">16N</tspan></text>
<text><tspan x="55.2" y="549.0" font-size="12.0" textLength="18.7" lengthAdjust="spacingAndGlyphs">17N</tspan></text>
<text><tspan x="55.2" y="507.0" font-size="12.0" textLength="18.7" lengthAdjust="spacingAndGlyphs">18N</tspan></text>
<text><tspan x="55.2" y="466.0" font-size="12.0" textLength="18.7" lengthAdjust="spacingAndGlyphs">19N</tspan></text>
<text><tspan x="54.4" y="424.0" font-size="12.0" textLength="19.5" lengthAdjust="spacingAndGlyphs">20N</tspan></text>
<text><tspan x="54.4" y="382.0" font-size="12.0" textLength="19.5" lengthAdjust="spacingAndGlyphs">21N</tspan></text>
<text><tspan x="54.4" y="340.0" font-size="12.0" textLength="19.5" lengthAdjust="spacingAndGlyphs">22N</tspan></text>
<text><tspan x="54.4" y="298.0" font-size="12.0" textLength="19.5" lengthAdjust="spacingAndGlyphs">23N</tspan></text>
<text><tspan x="54.4" y="256.0" font-size="12.0" textLength="19.5" lengthAdjust="spacingAndGlyphs">24N</tspan></text>
<text><tspan x="54.4" y="214.0" font-size="12.0" textLength="19.5" lengthAdjust="spacingAndGlyphs">25N</tspan></text>
<text><tspan x="54.4" y="172.0" font-size="12.0" textLength="19.5" lengthAdjust="spacingAndGlyphs">26N</tspan></text>
<text><tspan x="94.4" y="748.8" font-size="13.0" textLength="8.9" lengthAdjust="spacingAndGlyphs">5</tspan></text>
<text><tspan x="131.6" y="748.8" font-size="13.0" textLength="16.9" lengthAdjust="spacingAndGlyphs">10</tspan></text>
<text><tspan x="173.6" y="748.8" font-size="13.0" textLength="15.7" lengthAdjust="spacingAndGlyphs">20</tspan></text>
<text><tspan x="215.3" y="748.8" font-size="13.0" textLength="15.8" lengthAdjust="spacingAndGlyphs">30</tspan></text>
<text><tspan x="257.1" y="748.8" font-size="13.0" textLength="14.7" lengthAdjust="spacingAndGlyphs">40</tspan></text>
<text><tspan x="297.9" y="748.8" font-size="13.0" textLength="15.7" lengthAdjust="spacingAndGlyphs">50</tspan></text>
<text><tspan x="338.8" y="748.8" font-size="13.0" textLength="15.7" lengthAdjust="spacingAndGlyphs">60</tspan></text>
<text><tspan x="380.5" y="748.8" font-size="13.0" textLength="15.8" lengthAdjust="spacingAndGlyphs">70</tspan></text>
<text><tspan x="421.3" y="748.8" font-size="13.0" textLength="15.8" lengthAdjust="spacingAndGlyphs">80</tspan></text>
<text><tspan x="463.1" y="748.8" font-size="13.0" textLength="15.7" lengthAdjust="spacingAndGlyphs">90</tspan></text>
<text><tspan x="500.7" y="748.8" font-size="13.0" textLength="22.2" lengthAdjust="spacingAndGlyphs">100</tspan></text>
<text><tspan x="35.6" y="786.6" font-size="21.3" textLength="55.0" lengthAdjust="spacingAndGlyphs">TANG</tspan> <tspan x="104.1" y="786.6" font-size="21.3" textLength="10.5" lengthAdjust="spacingAndGlyphs">1</tspan><tspan x="117.8" y="785.0" font-size="21.3" textLength="18.1" lengthAdjust="spacingAndGlyphs">-</tspan><tspan x="137.4" y="786.6" font-size="21.3" textLength="13.4" lengthAdjust="spacingAndGlyphs">2</tspan> <tspan x="165.7" y="786.6" font-size="21.3" textLength="58.0" lengthAdjust="spacingAndGlyphs">days:</tspan>  <tspan x="249.2" y="786.6" font-size="21.3" textLength="15.7" lengthAdjust="spacingAndGlyphs">N</tspan><tspan x="265.6" y="786.7" font-size="28.0" rotate="15">/</tspan><tspan x="281.2" y="786.6" font-size="21.3" textLength="13.4" lengthAdjust="spacingAndGlyphs">A</tspan><tspan x="294.5" y="786.6" font-size="21.3" textLength="6.4" lengthAdjust="spacingAndGlyphs">,</tspan>   <tspan x="336.8" y="786.6" font-size="21.3" textLength="54.4" lengthAdjust="spacingAndGlyphs">TANG</tspan> <tspan x="404.2" y="786.6" font-size="21.3" textLength="14.6" lengthAdjust="spacingAndGlyphs">3</tspan><tspan x="417.5" y="785.0" font-size="21.3" textLength="22.8" lengthAdjust="spacingAndGlyphs">-</tspan><tspan x="438.1" y="786.6" font-size="21.3" textLength="13.8" lengthAdjust="spacingAndGlyphs">5</tspan> <tspan x="466.1" y="786.6" font-size="21.3" textLength="58.8" lengthAdjust="spacingAndGlyphs">days:</tspan>  <tspan x="550.5" y="786.6" font-size="21.3" textLength="14.5" lengthAdjust="spacingAndGlyphs">N</tspan><tspan x="566.4" y="786.7" font-size="28.0" rotate="15">/</tspan><tspan x="581.4" y="786.6" font-size="21.3" textLength="14.5" lengthAdjust="spacingAndGlyphs">A</tspan></text></g>
</svg></body></html>
